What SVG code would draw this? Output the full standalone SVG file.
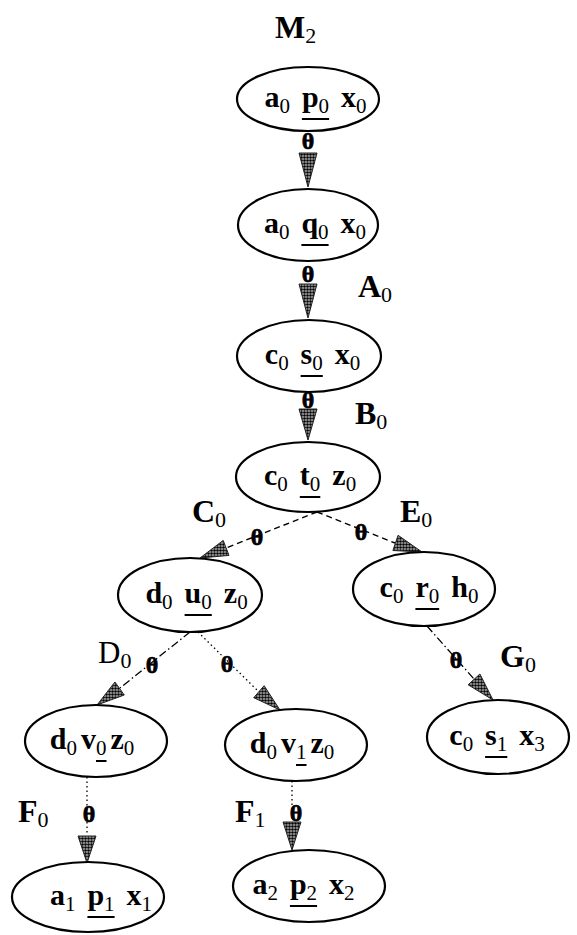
<svg xmlns="http://www.w3.org/2000/svg" width="577" height="935" viewBox="0 0 577 935">
<style>
.nd{fill:none;stroke:#000;stroke-width:2.2}
.v{font-family:"Liberation Serif","Times New Roman",serif;font-weight:bold;font-size:30px;fill:#000}
.s{font-family:"Liberation Serif","Times New Roman",serif;font-weight:normal;font-size:21px}
.lb{font-family:"Liberation Serif","Times New Roman",serif;font-weight:bold;font-size:32px;fill:#000}
.lbr{font-family:"Liberation Serif","Times New Roman",serif;font-weight:normal;font-size:31px;fill:#000}
.ls{font-family:"Liberation Serif","Times New Roman",serif;font-weight:normal;font-size:22px}
.th{font-family:"Liberation Serif","Times New Roman",serif;font-weight:bold;font-size:24px;fill:#000;stroke:#000;stroke-width:0.7;text-anchor:middle}
.ul{stroke:#000;stroke-width:2}
.ah{fill:url(#st);stroke:#222;stroke-width:1}
.dash{stroke:#000;stroke-width:1.4;fill:none;stroke-dasharray:6 4}
.dot{stroke:#000;stroke-width:1.3;fill:none;stroke-dasharray:1.5 3}
.dd{stroke:#000;stroke-width:1.3;fill:none;stroke-dasharray:8 3 1.5 3}
</style>
<defs>
<pattern id="st" width="3" height="3" patternUnits="userSpaceOnUse">
<rect width="3" height="3" fill="#bbb"/>
<circle cx="1.5" cy="1.5" r="1.3" fill="#000"/>
</pattern>
</defs>

<g id="labels">
<text class="lb" x="275" y="38">M<tspan class="ls" dy="5">2</tspan></text>
<text class="lb" x="358" y="297">A<tspan class="ls" dy="5">0</tspan></text>
<text class="lb" x="355" y="424">B<tspan class="ls" dy="5">0</tspan></text>
<text class="lb" x="192" y="522">C<tspan class="ls" dy="5">0</tspan></text>
<text class="lb" x="400" y="522">E<tspan class="ls" dy="5">0</tspan></text>
<text class="lbr" x="98" y="663">D<tspan class="ls" dy="5">0</tspan></text>
<text class="lb" x="500" y="667">G<tspan class="ls" dy="5">0</tspan></text>
<text class="lb" x="18" y="822">F<tspan class="ls" dy="5">0</tspan></text>
<text class="lb" x="235" y="822">F<tspan class="ls" dy="5">1</tspan></text>
</g>

<g id="connectors">
<line class="dash" x1="317" y1="512" x2="226" y2="548"/>
<line class="dash" x1="317" y1="512" x2="395" y2="543"/>
<line class="dd" x1="190" y1="632" x2="120" y2="688"/>
<line class="dot" x1="198" y1="632" x2="259" y2="692"/>
<line class="dd" x1="427" y1="626" x2="474" y2="679"/>
<line class="dot" x1="87" y1="777" x2="87" y2="835"/>
<line class="dot" x1="292" y1="781" x2="292" y2="820"/>
<polygon class="ah" points="299,153 317,153 308,187"/>
<polygon class="ah" points="299,284 317,284 308,318"/>
<polygon class="ah" points="299,409 317,409 308,440"/>
<polygon class="ah" points="229,555.4 223.2,540.4 200,558"/>
<polygon class="ah" points="392.9,550.5 398.1,535.3 422,552"/>
<polygon class="ah" points="124.3,695 114.9,682 97,705"/>
<polygon class="ah" points="253.7,697.7 264.1,685.7 280,710"/>
<polygon class="ah" points="468.1,684.8 479.9,674 493,700"/>
<polygon class="ah" points="78,836 96,836 87,863"/>
<polygon class="ah" points="283,822 301,822 292,850"/>
<text class="th" x="308" y="149">θ</text>
<text class="th" x="308" y="282">θ</text>
<text class="th" x="308" y="408">θ</text>
<text class="th" x="257" y="545">θ</text>
<text class="th" x="361" y="540">θ</text>
<text class="th" x="152" y="673">θ</text>
<text class="th" x="227" y="672">θ</text>
<text class="th" x="456" y="668">θ</text>
<text class="th" x="89" y="822">θ</text>
<text class="th" x="296" y="821">θ</text>
</g>

<g id="n1">
<ellipse class="nd" cx="308" cy="99" rx="71" ry="32"/>
<text class="v" y="107"><tspan x="264.4">a</tspan><tspan class="s" dy="6">0</tspan><tspan x="301.9" dy="-6">p</tspan><tspan class="s" dy="6">0</tspan><tspan x="341.1" dy="-6">x</tspan><tspan class="s" dy="6">0</tspan></text>
<line class="ul" x1="301.9" y1="119" x2="329.1" y2="119"/>
</g>
<g id="n2">
<ellipse class="nd" cx="308" cy="225" rx="70" ry="36"/>
<text class="v" y="233"><tspan x="263.9">a</tspan><tspan class="s" dy="6">0</tspan><tspan x="301.4" dy="-6">q</tspan><tspan class="s" dy="6">0</tspan><tspan x="340.6" dy="-6">x</tspan><tspan class="s" dy="6">0</tspan></text>
<line class="ul" x1="301.4" y1="245" x2="328.6" y2="245"/>
</g>
<g id="n3">
<ellipse class="nd" cx="309" cy="356" rx="72" ry="36"/>
<text class="v" y="364"><tspan x="264.8">c</tspan><tspan class="s" dy="6">0</tspan><tspan x="300.6" dy="-6">s</tspan><tspan class="s" dy="6">0</tspan><tspan x="334.8" dy="-6">x</tspan><tspan class="s" dy="6">0</tspan></text>
<line class="ul" x1="300.6" y1="376" x2="322.8" y2="376"/>
</g>
<g id="n4">
<ellipse class="nd" cx="308" cy="477" rx="72" ry="35"/>
<text class="v" y="485"><tspan x="264">c</tspan><tspan class="s" dy="6">0</tspan><tspan x="299.8" dy="-6">t</tspan><tspan class="s" dy="6">0</tspan><tspan x="332.3" dy="-6">z</tspan><tspan class="s" dy="6">0</tspan></text>
<line class="ul" x1="299.8" y1="497" x2="320.3" y2="497"/>
</g>
<g id="n5">
<ellipse class="nd" cx="190" cy="595" rx="72" ry="37"/>
<text class="v" y="603"><tspan x="145.4">d</tspan><tspan class="s" dy="6">0</tspan><tspan x="184.6" dy="-6">u</tspan><tspan class="s" dy="6">0</tspan><tspan x="223.8" dy="-6">z</tspan><tspan class="s" dy="6">0</tspan></text>
<line class="ul" x1="184.6" y1="615" x2="211.8" y2="615"/>
</g>
<g id="n6">
<ellipse class="nd" cx="424" cy="589" rx="71" ry="37"/>
<text class="v" y="597"><tspan x="379.6">c</tspan><tspan class="s" dy="6">0</tspan><tspan x="415.4" dy="-6">r</tspan><tspan class="s" dy="6">0</tspan><tspan x="451.2" dy="-6">h</tspan><tspan class="s" dy="6">0</tspan></text>
<line class="ul" x1="415.4" y1="609" x2="439.2" y2="609"/>
</g>
<g id="n7">
<ellipse class="nd" cx="96" cy="741" rx="71" ry="36"/>
<text class="v" y="749"><tspan x="49.8">d</tspan><tspan class="s" dy="6">0</tspan><tspan x="81" dy="-6">v</tspan><tspan class="s" dy="6">0</tspan><tspan x="110.5" dy="-6">z</tspan><tspan class="s" dy="6">0</tspan></text>
<line class="ul" x1="96" y1="761" x2="106.5" y2="761"/>
</g>
<g id="n8">
<ellipse class="nd" cx="296" cy="745" rx="71" ry="36"/>
<text class="v" y="753"><tspan x="249.8">d</tspan><tspan class="s" dy="6">0</tspan><tspan x="281" dy="-6">v</tspan><tspan class="s" dy="6">1</tspan><tspan x="310.5" dy="-6">z</tspan><tspan class="s" dy="6">0</tspan></text>
<line class="ul" x1="296" y1="765" x2="306.5" y2="765"/>
</g>
<g id="n9">
<ellipse class="nd" cx="498" cy="737" rx="71" ry="37"/>
<text class="v" y="745"><tspan x="449.3">c</tspan><tspan class="s" dy="6">0</tspan><tspan x="485.1" dy="-6">s</tspan><tspan class="s" dy="6">1</tspan><tspan x="519.3" dy="-6">x</tspan><tspan class="s" dy="6">3</tspan></text>
<line class="ul" x1="485.1" y1="757" x2="507.3" y2="757"/>
</g>
<g id="n10">
<ellipse class="nd" cx="88" cy="897" rx="76" ry="35"/>
<text class="v" y="905"><tspan x="49.9">a</tspan><tspan class="s" dy="6">1</tspan><tspan x="87.4" dy="-6">p</tspan><tspan class="s" dy="6">1</tspan><tspan x="126.6" dy="-6">x</tspan><tspan class="s" dy="6">1</tspan></text>
<line class="ul" x1="87.4" y1="917" x2="114.6" y2="917"/>
</g>
<g id="n11">
<ellipse class="nd" cx="309" cy="886" rx="76" ry="36"/>
<text class="v" y="894"><tspan x="252.4">a</tspan><tspan class="s" dy="6">2</tspan><tspan x="289.9" dy="-6">p</tspan><tspan class="s" dy="6">2</tspan><tspan x="329.1" dy="-6">x</tspan><tspan class="s" dy="6">2</tspan></text>
<line class="ul" x1="289.9" y1="906" x2="317.1" y2="906"/>
</g>
</svg>
